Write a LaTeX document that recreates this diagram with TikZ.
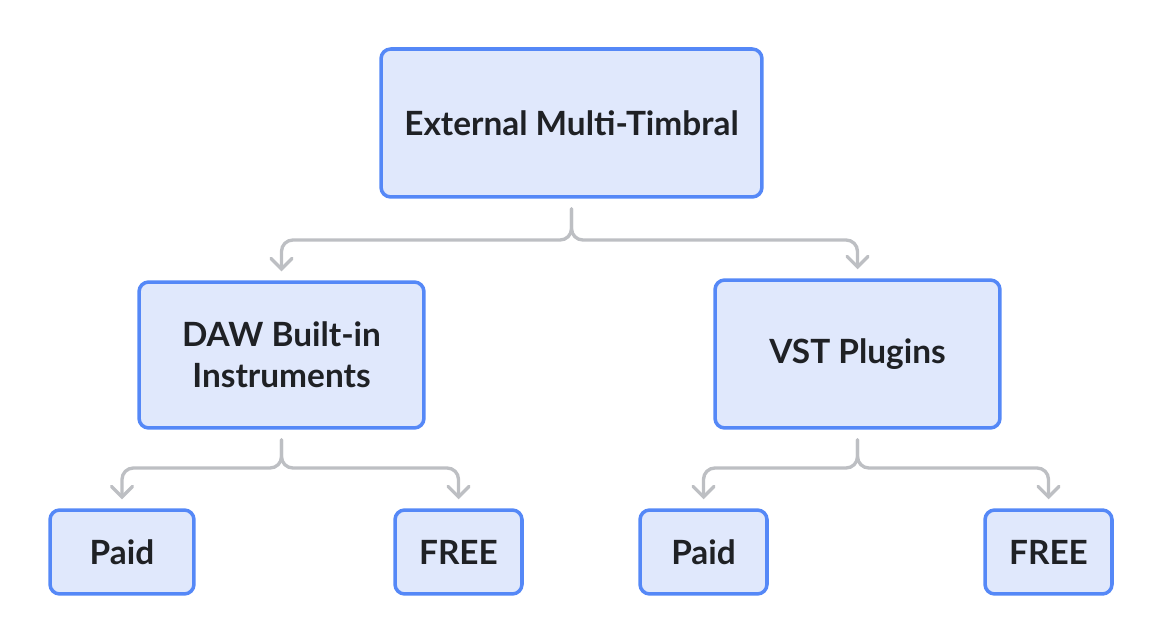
\documentclass[tikz,border=0pt]{standalone}
\usepackage{fontspec}
\setmainfont{Lato}
\usetikzlibrary{arrows.meta}
\pgfdeclarelayer{edgelayer}
\pgfdeclarelayer{nodelayer}
\pgfsetlayers{edgelayer,nodelayer,main}
\definecolor{boxfill}{HTML}{E0E8FC}
\definecolor{boxline}{HTML}{5588F7}
\definecolor{wirecol}{HTML}{BDBFC3}
\definecolor{ink}{HTML}{1F2125}
\tikzstyle{none} = []
\tikzstyle{box} = [draw=boxline, fill=boxfill, line width=2pt, rounded corners=5.5pt, text=ink, font=\bfseries\fontsize{19}{23.5}\selectfont, align=center, inner sep=0pt]
\tikzstyle{wire} = [draw=wirecol, line width=1.9pt, rounded corners=6.5pt, line cap=round, -{Straight Barb[length=6pt,width=12pt,line cap=round]}]

\begin{document}
\begin{tikzpicture}[x=0.02cm, y=-0.02cm]
	\useasboundingbox (0, 0) rectangle (1162, 644);
	\begin{pgfonlayer}{nodelayer}
		\node [style=box, minimum width=7.62cm, minimum height=2.96cm] (0) at (571.5, 123) {External Multi-Timbral};
		\node [style=box, minimum width=5.7cm, minimum height=2.92cm] (1) at (281.5, 355) {DAW Built-in\\Instruments};
		\node [style=box, minimum width=5.7cm, minimum height=2.96cm] (2) at (857.5, 354) {VST Plugins};
		\node [style=box, minimum width=2.88cm, minimum height=1.68cm] (3) at (122, 552) {Paid};
		\node [style=box, minimum width=2.54cm, minimum height=1.68cm] (4) at (458.5, 552) {FREE};
		\node [style=box, minimum width=2.54cm, minimum height=1.68cm] (5) at (703.5, 552) {Paid};
		\node [style=box, minimum width=2.54cm, minimum height=1.68cm] (6) at (1048.5, 552) {FREE};
		\coordinate (7) at (571.5, 240);
		\coordinate (8) at (281.5, 468);
		\coordinate (9) at (857.5, 468);
	\end{pgfonlayer}
	\begin{pgfonlayer}{edgelayer}
		\draw [style=wire] ([yshift=-0.2cm]0.south) -- (7) -| ([yshift=0.18cm]1.north);
		\draw [style=wire] ([yshift=-0.2cm]0.south) -- (7) -| ([yshift=0.18cm]2.north);
		\draw [style=wire] ([yshift=-0.2cm]1.south) -- (8) -| ([yshift=0.18cm]3.north);
		\draw [style=wire] ([yshift=-0.2cm]1.south) -- (8) -| ([yshift=0.18cm]4.north);
		\draw [style=wire] ([yshift=-0.2cm]2.south) -- (9) -| ([yshift=0.18cm]5.north);
		\draw [style=wire] ([yshift=-0.2cm]2.south) -- (9) -| ([yshift=0.18cm]6.north);
	\end{pgfonlayer}
\end{tikzpicture}
\end{document}
